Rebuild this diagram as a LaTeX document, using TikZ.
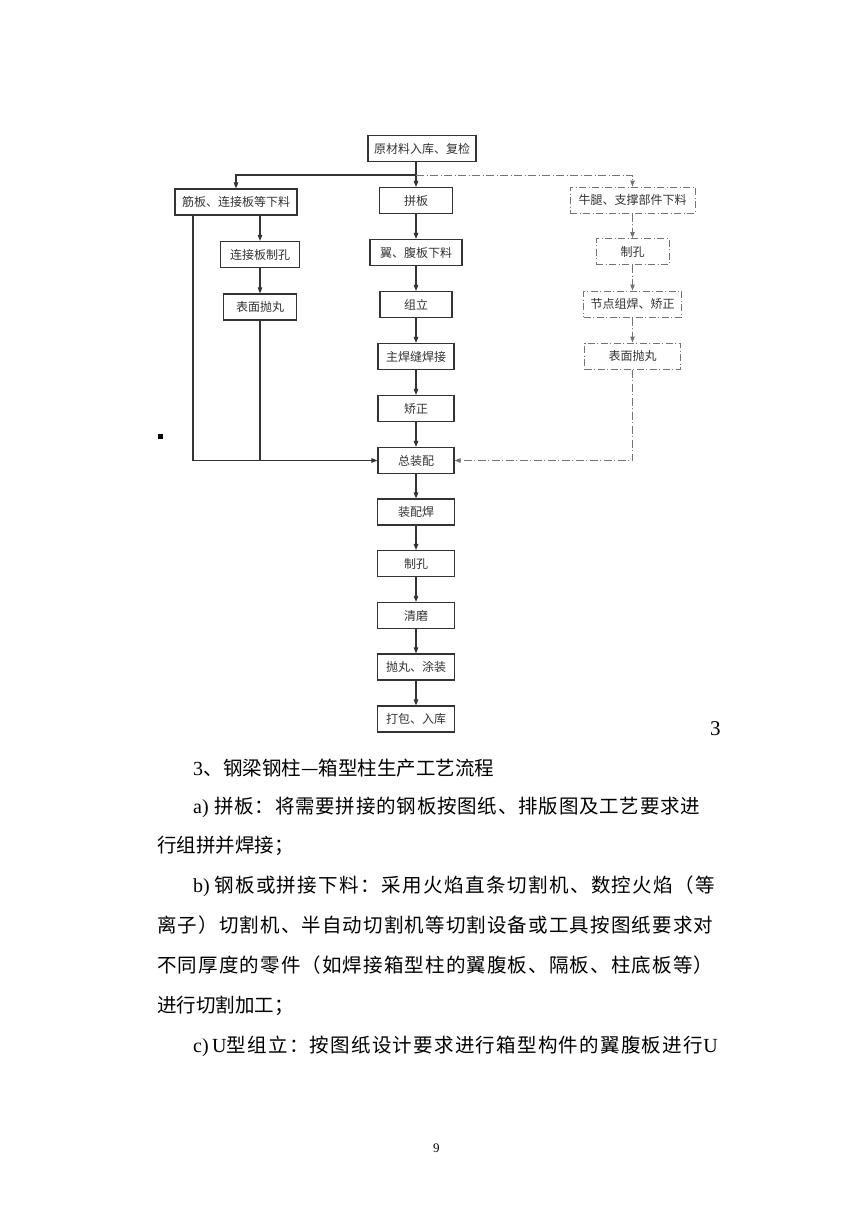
\documentclass[tikz,border=0pt]{standalone}
\usepackage{fontspec}
\setmainfont{Liberation Serif}
\newfontfamily\cjk{Noto Sans CJK SC}
\usetikzlibrary{arrows.meta}
\ExplSyntaxOn
\NewDocumentCommand\spreadbox{mm}{\hbox~to~#1{\tl_map_inline:nn{#2}{##1\hfil}\unskip}}
\ExplSyntaxOff
\tikzset{
  box/.style={draw=black!80, line width=1.1pt, minimum height=26pt, inner sep=0pt,
    font=\cjk\fontsize{12}{12}\selectfont, text=black!80},
  dbox/.style={box, draw=black!55, line width=1pt, dash pattern=on 7pt off 2.5pt on 1pt off 2.5pt},
  arr/.style={draw=black!80, line width=1.1pt, -{Triangle[length=6pt,width=4.5pt]}},
  ln/.style={draw=black!80, line width=1.1pt},
  darr/.style={arr, draw=black!55, line width=1pt, dash pattern=on 8pt off 2.5pt on 1pt off 2.5pt},
  dln/.style={ln, draw=black!55, line width=1pt, dash pattern=on 8pt off 2.5pt on 1pt off 2.5pt},
  body/.style={anchor=base west, inner sep=0pt, font=\cjk\fontsize{19.5}{19.5}\selectfont},
  lat/.style={anchor=base west, inner sep=0pt, font=\fontsize{20}{20}\selectfont},
}
\begin{document}
\begin{tikzpicture}[x=1pt,y=-1pt]
\useasboundingbox[fill=white] (0,0) rectangle (860,1215);
% nodes
\node[box, minimum width=108pt] (top) at (422,148.5) {原材料入库、复检};
\node[box, minimum width=122pt] (lb) at (236,202) {筋板、连接板等下料};
\node[box, minimum width=73pt] (pb) at (416,200.5) {拼板};
\node[dbox, minimum width=125pt] (rb) at (632.5,200) {牛腿、支撑部件下料};
\node[box, minimum width=79pt] (lz) at (260,254.5) {连接板制孔};
\node[box, minimum width=92pt] (yf) at (416,252.5) {翼、腹板下料};
\node[dbox, minimum width=73pt] (rz) at (632.5,251.5) {制孔};
\node[box, minimum width=73pt] (lp) at (260,307) {表面抛丸};
\node[box, minimum width=72pt] (zl) at (416,304.5) {组立};
\node[dbox, minimum width=98pt] (jd) at (632.5,304) {节点组焊、矫正};
\node[box, minimum width=76pt] (zh) at (416,356.5) {主焊缝焊接};
\node[dbox, minimum width=96pt] (rp) at (632.5,356) {表面抛丸};
\node[box, minimum width=76pt] (jz) at (416,408.5) {矫正};
\node[box, minimum width=76pt] (zz) at (416,460.5) {总装配};
\node[box, minimum width=77pt] (zp) at (416,512) {装配焊};
\node[box, minimum width=77pt] (zk) at (416,563.5) {制孔};
\node[box, minimum width=77pt] (qm) at (416,615.5) {清磨};
\node[box, minimum width=77pt] (tz) at (416,667) {抛丸、涂装};
\node[box, minimum width=77pt] (db) at (416,719) {打包、入库};
% branch
\coordinate (br) at (416,175);
\coordinate (lv) at (193,0);
\draw[ln] (top.south -| pb.north) -- (br);
\draw[arr] (br) -- (pb.north);
\draw[arr] (br) -| (lb.north);
\draw[darr] (br) -| (rb.north);
% left
\draw[arr] (lb.south -| lz.north) -- (lz.north);
\draw[arr] (lz) -- (lp);
\draw[ln] (lp.south) -- (lp.south |- zz.west);
\draw[arr] (lb.south -| lv) |- (zz.west);
% center
\draw[arr] (pb) -- (yf);
\draw[arr] (yf) -- (zl);
\draw[arr] (zl) -- (zh);
\draw[arr] (zh) -- (jz);
\draw[arr] (jz) -- (zz);
\draw[arr] (zz) -- (zp);
\draw[arr] (zp) -- (zk);
\draw[arr] (zk) -- (qm);
\draw[arr] (qm) -- (tz);
\draw[arr] (tz) -- (db);
% right
\draw[darr] (rb) -- (rz);
\draw[darr] (rz) -- (jd);
\draw[darr] (jd) -- (rp);
\draw[darr] (rp.south) |- (zz.east);
% dot
\fill (158,434) rectangle (163,439);
\node[lat, font=\fontsize{21}{21}\selectfont] (n3) at (710,735) {3};
% text
\node[lat] (t0) at (193,775) {3};
\node[body] (t0c) at (t0.base east) {、钢梁钢柱—箱型柱生产工艺流程};
\node[lat] (t1) at (193,813) {a)};
\node[body] (t1c) at (214,813) {\spreadbox{486pt}{拼板：将需要拼接的钢板按图纸、排版图及工艺要求进}};
\node[body] (t2) at (157,852) {行组拼并焊接；};
\node[lat] (t3) at (193,892) {b)};
\node[body] (t3c) at (214,892) {\spreadbox{501pt}{钢板或拼接下料：采用火焰直条切割机、数控火焰（等}};
\node[body] (t4) at (157,932) {\spreadbox{556pt}{离子）切割机、半自动切割机等切割设备或工具按图纸要求对}};
\node[body] (t5) at (157,972) {\spreadbox{556pt}{不同厚度的零件（如焊接箱型柱的翼腹板、隔板、柱底板等）}};
\node[body] (t6) at (157,1012) {进行切割加工；};
\node[lat] (t7) at (193,1052) {c)\,U};
\node[body] (t7c) at (t7.base east) {\spreadbox{476pt}{型组立：按图纸设计要求进行箱型构件的翼腹板进行}};
\node[lat] (t7e) at (t7c.base east) {U};
\node[lat, font=\fontsize{13}{13}\selectfont] (pg) at (433,1152) {9};
\end{tikzpicture}
\end{document}
